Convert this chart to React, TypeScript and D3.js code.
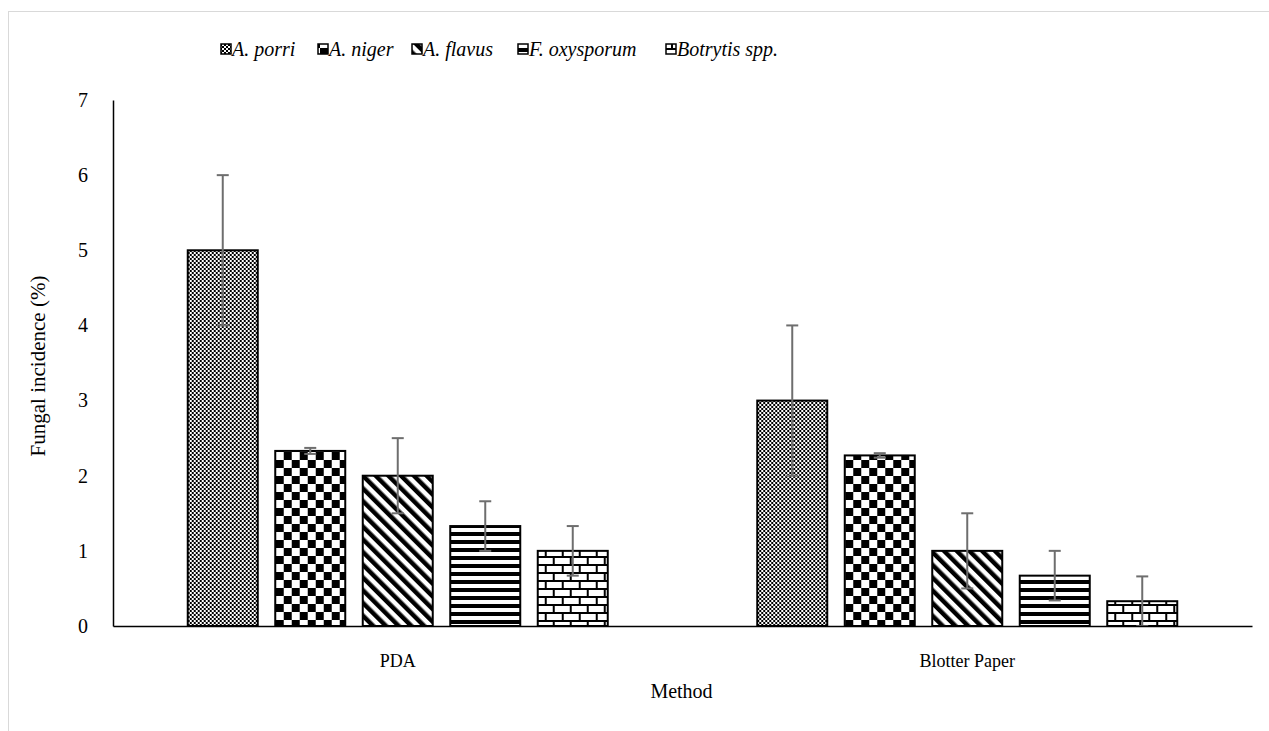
import React, { useRef, useEffect } from "react";
import * as d3 from "d3";

// chart data
const methods = ["PDA", "Blotter Paper"];
const species = ["A. porri", "A. niger", "A. flavus", "F. oxysporum", "Botrytis spp."];
const values = [
  [5.0, 2.33, 2.0, 1.33, 1.0],
  [3.0, 2.27, 1.0, 0.67, 0.33],
];
const errors = [
  [1.0, 0.04, 0.5, 0.33, 0.33],
  [1.0, 0.03, 0.5, 0.33, 0.33],
];
const yTicks = [0, 1, 2, 3, 4, 5, 6, 7];

const W = 1269;
const H = 731;
const FONT = "'Liberation Serif', 'Times New Roman', serif";

const App = () => {
  const svgRef = useRef<SVGSVGElement>(null);

  useEffect(() => {
    const svg = d3.select(svgRef.current);
    svg.selectAll("*").remove();

    const margin = { top: 100, right: 17, bottom: 105, left: 113 };
    const innerW = W - margin.left - margin.right;
    const innerH = H - margin.top - margin.bottom;

    // fill patterns, one per species
    const defs = svg.append("defs");

    const p0 = defs.append("pattern").attr("id", "pat0").attr("patternUnits", "userSpaceOnUse")
      .attr("width", 4).attr("height", 4);
    p0.append("rect").attr("width", 4).attr("height", 4).attr("fill", "#fff");
    p0.append("rect").attr("width", 2).attr("height", 2).attr("fill", "#000");
    p0.append("rect").attr("x", 2).attr("y", 2).attr("width", 2).attr("height", 2).attr("fill", "#000");

    const p1 = defs.append("pattern").attr("id", "pat1").attr("patternUnits", "userSpaceOnUse")
      .attr("width", 16).attr("height", 16);
    p1.append("rect").attr("width", 16).attr("height", 16).attr("fill", "#fff");
    p1.append("rect").attr("width", 8).attr("height", 8).attr("fill", "#000");
    p1.append("rect").attr("x", 8).attr("y", 8).attr("width", 8).attr("height", 8).attr("fill", "#000");

    const p2 = defs.append("pattern").attr("id", "pat2").attr("patternUnits", "userSpaceOnUse")
      .attr("width", 9).attr("height", 9).attr("patternTransform", "rotate(-45)");
    p2.append("rect").attr("width", 9).attr("height", 9).attr("fill", "#fff");
    p2.append("rect").attr("width", 4.5).attr("height", 9).attr("fill", "#000");

    const p3 = defs.append("pattern").attr("id", "pat3").attr("patternUnits", "userSpaceOnUse")
      .attr("width", 8).attr("height", 8);
    p3.append("rect").attr("width", 8).attr("height", 8).attr("fill", "#fff");
    p3.append("rect").attr("width", 8).attr("height", 4).attr("fill", "#000");

    const p4 = defs.append("pattern").attr("id", "pat4").attr("patternUnits", "userSpaceOnUse")
      .attr("width", 17).attr("height", 16);
    p4.append("rect").attr("width", 17).attr("height", 16).attr("fill", "#fff");
    p4.append("rect").attr("width", 17).attr("height", 2).attr("fill", "#000");
    p4.append("rect").attr("y", 8).attr("width", 17).attr("height", 2).attr("fill", "#000");
    p4.append("rect").attr("x", 0).attr("y", 0).attr("width", 2).attr("height", 8).attr("fill", "#000");
    p4.append("rect").attr("x", 8).attr("y", 8).attr("width", 2).attr("height", 8).attr("fill", "#000");

    // outer chart border (runs off the right and bottom edges)
    svg.append("rect")
      .attr("x", 8.5).attr("y", 11.5)
      .attr("width", W + 20).attr("height", H + 20)
      .attr("fill", "none").attr("stroke", "#d9d9d9").attr("stroke-width", 1);

    // scales
    const x0 = d3.scaleBand().domain(methods).range([0, innerW]);
    const x1 = d3.scaleBand().domain(species).range([0, 420]).paddingInner(0.2);
    const y = d3.scaleLinear().domain([0, 7]).range([innerH, 0]);

    const g = svg.append("g").attr("transform", `translate(${margin.left},${margin.top})`);

    // bars + error bars
    methods.forEach((m, mi) => {
      const gx = (x0(m) as number) + x0.bandwidth() / 2 - 210;
      const grp = g.append("g").attr("transform", `translate(${gx},0)`);
      species.forEach((s, si) => {
        const v = values[mi][si];
        grp.append("rect")
          .attr("x", x1(s) as number)
          .attr("y", y(v))
          .attr("width", x1.bandwidth())
          .attr("height", innerH - y(v))
          .attr("fill", `url(#pat${si})`)
          .attr("stroke", "#000")
          .attr("stroke-width", 2);
      });
      species.forEach((s, si) => {
        const v = values[mi][si];
        const e = errors[mi][si];
        const cx = (x1(s) as number) + x1.bandwidth() / 2;
        const lo = Math.max(0, v - e);
        const hi = v + e;
        grp.append("line").attr("x1", cx).attr("x2", cx).attr("y1", y(lo)).attr("y2", y(hi))
          .attr("stroke", "#6e6e6e").attr("stroke-width", 2);
        [hi, lo].forEach((t) => {
          grp.append("line").attr("x1", cx - 6).attr("x2", cx + 6).attr("y1", y(t)).attr("y2", y(t))
            .attr("stroke", "#6e6e6e").attr("stroke-width", 2);
        });
      });
    });

    // axes
    const yAxis = g.append("g")
      .call(d3.axisLeft(y).tickValues(yTicks).tickFormat(d3.format("d")).tickSize(0).tickPadding(25));
    yAxis.attr("font-family", null).attr("font-size", null);
    yAxis.select(".domain").attr("stroke", "#000").attr("stroke-width", 1.5);
    yAxis.selectAll("text").style("font-family", FONT).style("font-size", "20px").attr("fill", "#000");

    const xAxis = g.append("g").attr("transform", `translate(0,${innerH})`)
      .call(d3.axisBottom(x0).tickSize(0).tickPadding(28));
    xAxis.attr("font-family", null).attr("font-size", null);
    xAxis.select(".domain").attr("stroke", "#000").attr("stroke-width", 1.5);
    xAxis.selectAll("text").style("font-family", FONT).style("font-size", "18px").attr("fill", "#000");

    // axis titles
    svg.append("text")
      .attr("transform", `translate(45,${margin.top + innerH / 2 + 3}) rotate(-90)`)
      .attr("text-anchor", "middle")
      .style("font-family", FONT).style("font-size", "21px")
      .text("Fungal incidence (%)");

    svg.append("text")
      .attr("x", margin.left + innerW / 2 - 1).attr("y", 698)
      .attr("text-anchor", "middle")
      .style("font-family", FONT).style("font-size", "20px")
      .text("Method");

    // legend
    const legendX = [221, 318, 412, 518, 666];
    const lg = svg.append("g");
    species.forEach((s, si) => {
      lg.append("rect")
        .attr("x", legendX[si]).attr("y", 44).attr("width", 10).attr("height", 10)
        .attr("fill", `url(#pat${si})`).attr("stroke", "#000").attr("stroke-width", 1.5);
      lg.append("text")
        .attr("x", legendX[si] + 11).attr("y", 56)
        .style("font-family", FONT).style("font-size", "20px").style("font-style", "italic")
        .text(s);
    });
  }, []);

  return (
    <svg ref={svgRef} width={W} height={H}
      style={{ position: "absolute", left: 0, top: 0, background: "#fff" }} />
  );
};

export default App;
